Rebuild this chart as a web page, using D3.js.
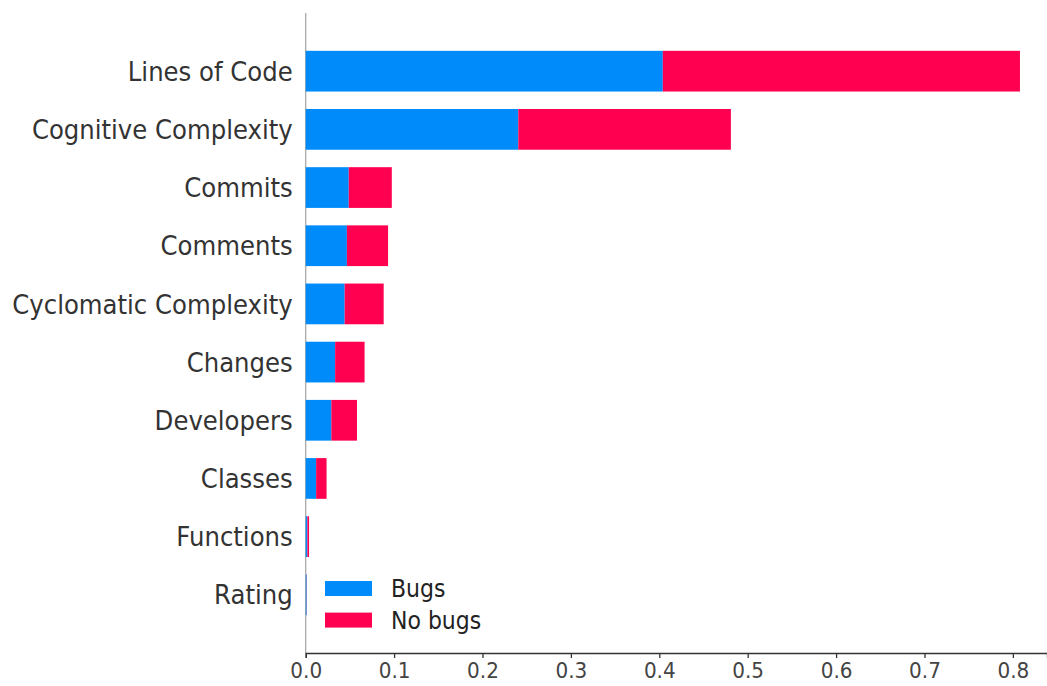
<!DOCTYPE html>
<html>
<head>
<meta charset="utf-8">
<script src="https://cdn.jsdelivr.net/npm/d3@7"></script>
<style>
  html, body { margin: 0; padding: 0; background: #fff; }
  svg { display: block; font-family: "DejaVu Sans", sans-serif; }
</style>
</head>
<body>
<svg id="chart" width="1047" height="686"></svg>
<script>
// Mean |SHAP value| per feature, for each output class
const features = ["Lines of Code", "Cognitive Complexity", "Commits", "Comments",
  "Cyclomatic Complexity", "Changes", "Developers", "Classes", "Functions", "Rating"];
const bugs   = [0.404, 0.2405, 0.0487, 0.0466, 0.0441, 0.0333, 0.0290, 0.0118, 0.0019, 0.0010];
const noBugs = [0.404, 0.2405, 0.0487, 0.0466, 0.0441, 0.0333, 0.0290, 0.0118, 0.0019, 0.0002];
const seriesNames = ["Bugs", "No bugs"];
const xTicks = [0, 0.1, 0.2, 0.3, 0.4, 0.5, 0.6, 0.7, 0.8];

const colors = { "Bugs": "#008bfb", "No bugs": "#ff0051" };
const textStretch = 1.1;

const svg = d3.select("#chart");

const x = d3.scaleLinear().domain([0, 0.8386]).range([305.7, 1047]);
// rows indexed 0..n-1, with one empty row of margin above and below
const y = d3.scaleLinear().domain([-1, features.length]).range([13, 653]);
const rowH = y(1) - y(0);
const barH = rowH * 0.7;

// zero line
svg.append("line")
  .attr("x1", x(0)).attr("x2", x(0))
  .attr("y1", y(-1)).attr("y2", y(features.length))
  .attr("stroke", "#aaaaaa").attr("stroke-width", 1.3);

// stacked bars
const rows = features.map((f, i) => ({ f, i, b: bugs[i], n: noBugs[i] }));
const g = svg.append("g");
g.selectAll("rect.bugs").data(rows).join("rect")
  .attr("class", "bugs")
  .attr("x", d => x(0))
  .attr("y", d => y(d.i) - barH / 2)
  .attr("width", d => x(d.b) - x(0))
  .attr("height", barH)
  .attr("fill", colors["Bugs"]);
g.selectAll("rect.nobugs").data(rows).join("rect")
  .attr("class", "nobugs")
  .attr("x", d => x(d.b))
  .attr("y", d => y(d.i) - barH / 2)
  .attr("width", d => x(d.b + d.n) - x(d.b))
  .attr("height", barH)
  .attr("fill", colors["No bugs"]);

// feature labels
svg.append("g").selectAll("text").data(rows).join("text")
  .attr("transform", d => `translate(${x(0) - 13},${y(d.i)}) scale(1,${textStretch})`)
  .attr("dy", "0.36em")
  .attr("text-anchor", "end")
  .attr("font-size", 24.4)
  .attr("fill", "#333333")
  .text(d => d.f);

// x axis
const xAxis = d3.axisBottom(x)
  .tickValues(xTicks)
  .tickFormat(d3.format(".1f"))
  .tickSizeOuter(0)
  .tickSize(5)
  .tickPadding(4);
const ax = svg.append("g")
  .attr("transform", `translate(0,${y(features.length)})`)
  .call(xAxis);
ax.select(".domain").attr("stroke", "#333333").attr("stroke-width", 1.3);
ax.selectAll(".tick line").attr("stroke", "#333333").attr("stroke-width", 1.3);
ax.selectAll(".tick text")
  .attr("font-family", "DejaVu Sans, sans-serif")
  .attr("font-size", 20)
  .attr("fill", "#444444")
  .attr("transform", `translate(0,9) scale(1,${textStretch}) translate(0,-9)`);

// legend
const lg = svg.append("g").attr("transform", "translate(325,581)");
seriesNames.forEach((s, i) => {
  const row = lg.append("g").attr("transform", `translate(0,${i * 31.6})`);
  row.append("rect").attr("width", 47).attr("height", 15).attr("fill", colors[s]);
  row.append("text")
    .attr("transform", `translate(66,7.5) scale(1,${textStretch})`)
    .attr("dy", "0.36em")
    .attr("font-size", 22).attr("fill", "#222222")
    .text(s);
});
</script>
</body>
</html>
